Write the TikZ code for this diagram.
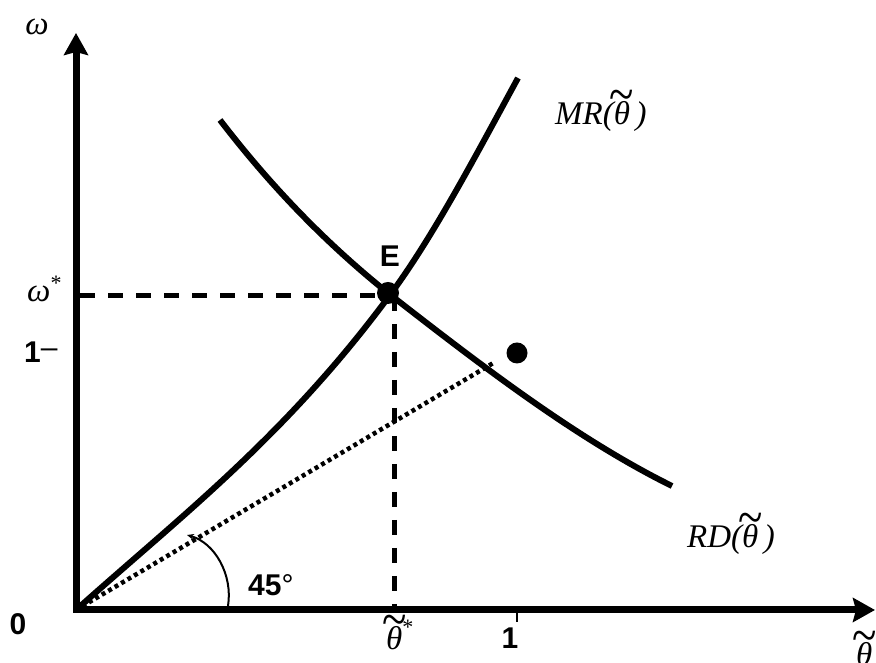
\documentclass[tikz,border=0pt]{standalone}
\usepackage{fontspec}
\usepackage{graphicx}
\setmainfont{Liberation Serif}
\newfontfamily\arialf{Liberation Sans}
\usetikzlibrary{arrows.meta}
\newcommand\tth{\leavevmode\hbox{\ooalign{\itshape θ\cr\hidewidth\raisebox{12.5pt}{\upshape\scalebox{1.5}[1.8]{\fontsize{30}{30}\selectfont\char"7E}}\hidewidth\cr}}}
\newcommand\upstar[1]{\raisebox{#1}{\upshape\fontsize{22}{22}\selectfont *}}
\begin{document}
\begin{tikzpicture}[x=1pt,y=1pt,
  ax/.style={line width=7pt, line join=miter},
  crv/.style={line width=6pt},
  dsh/.style={line width=5pt, dash pattern=on 15pt off 13pt},
  dts/.style={line width=4.5pt, dash pattern=on 4pt off 3.5pt},
  dotn/.style={circle, fill=black, inner sep=0pt, minimum size=22pt},
  slab/.style={font=\fontsize{33}{40}\selectfont\itshape, inner sep=0pt},
  blab/.style={font=\fontsize{30}{36}\selectfont\arialf\bfseries, inner sep=0pt}]
\useasboundingbox (0,0) rectangle (876,663);
% axes
\coordinate (O) at (76,53);
\coordinate (ytip) at (76,630);
\coordinate (xtip) at (875,53);
\draw[ax, {Stealth[length=22pt,width=24pt,inset=3pt]}-{Stealth[length=22pt,width=24pt,inset=3pt]}] (ytip) -- (O) -- (xtip);
% dashed guides
\coordinate (wst) at (80,367);
\coordinate (crn) at (394,367);
\coordinate (tst) at (394,57);
\draw[dsh] (wst) -- (crn);
\draw[dsh] (crn) -- (tst);
% dotted 45 line
\coordinate (dend) at (495,301);
\draw[dts] (O) -- (dend);
% MR curve
\coordinate (Ec) at (390,368);
\coordinate (mrtop) at (518,585);
\draw[crv] (O) .. controls (181,147) and (285,226) .. (Ec)
               .. controls (433,426) and (475,506) .. (mrtop);
% RD curve
\coordinate (rds) at (220,543);
\coordinate (Ed) at (388,370);
\coordinate (rde) at (672,177);
\draw[crv] (rds) .. controls (276,470) and (332,415) .. (Ed)
                 .. controls (483,296) and (577,224) .. (rde);
% dots
\node[dotn] (E) at (388,370) {};
\node[dotn, minimum size=21pt] (P) at (517,310) {};
% angle arc
\coordinate (arcs) at (228,57);
\coordinate (arce) at (187,128);
\draw[line width=2pt, -{Stealth[length=7pt,width=6pt]}] (arcs) .. controls (233,88) and (215,120) .. (arce);
% tick at 1
\coordinate (tk1) at (517,50);
\coordinate (tk2) at (517,41);
\draw[line width=1.5pt] (tk1) -- (tk2);
% labels
\node[slab, anchor=base] (w) at (37,628) {ω};
\node[slab, anchor=base west] (ws) at (27,361) {ω\upstar{11.5pt}};
\node[blab, anchor=base west] (one) at (24,300) {1\raisebox{5pt}{\mdseries –}};
\node[blab, anchor=base] (El) at (390,396) {E};
\node[blab, anchor=base] (zero) at (18,28) {0};
\node[blab, anchor=base west] (ang) at (248,67) {45{\mdseries °}};
\node[blab, anchor=base] (onex) at (510,14) {1};
\node[slab, anchor=base west] (ts) at (386,13) {\tth\upstar{15pt}};
\node[slab, anchor=base west] (tb) at (856,-3) {\tth};
\node[slab, anchor=base west] (mr) at (555,538) {MR(\tth\,)};
\node[slab, anchor=base west] (rd) at (687,115) {RD(\tth\,)};
\end{tikzpicture}
\end{document}
